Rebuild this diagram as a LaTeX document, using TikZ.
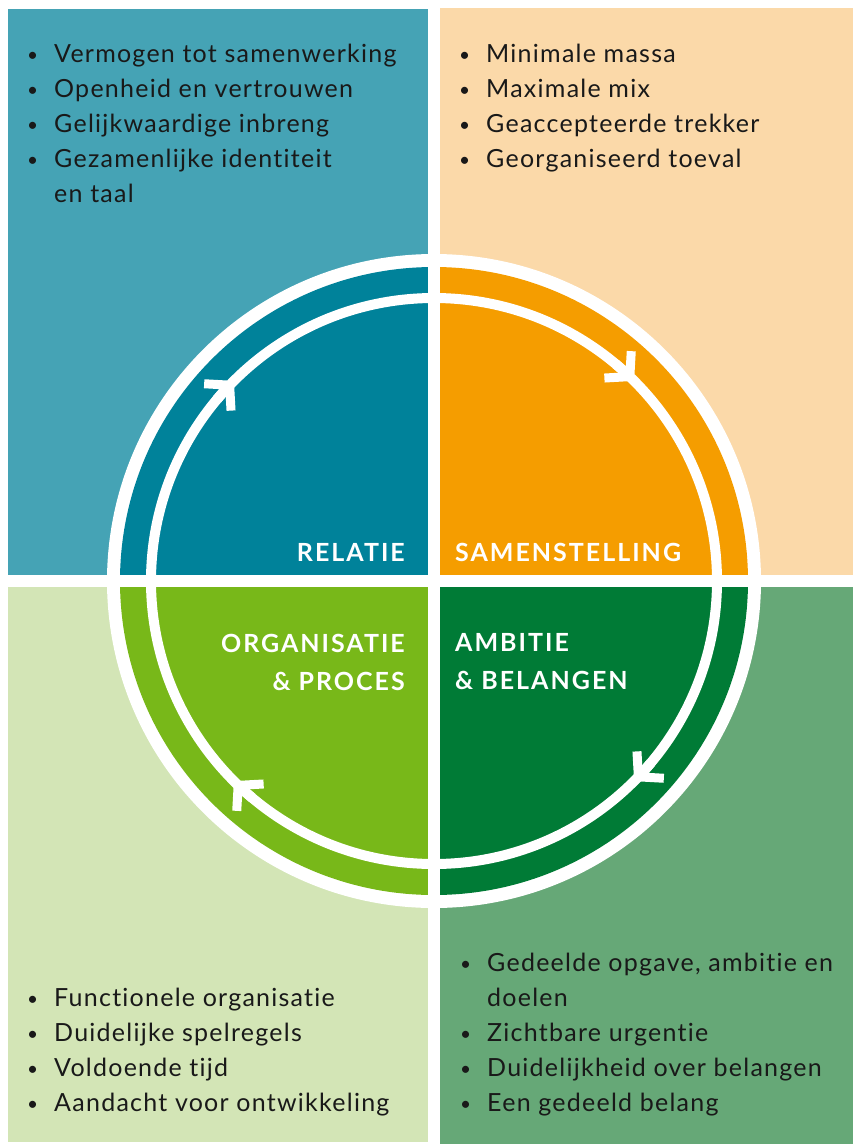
\documentclass[tikz,border=0pt]{standalone}
\usepackage{fontspec}
\setmainfont{Lato}[LetterSpace=5, Ligatures=NoCommon]
\newfontfamily\kopfont{Lato}[LetterSpace=8, Ligatures=NoCommon]
\usetikzlibrary{arrows.meta}

\definecolor{relLight}{HTML}{45A3B5}
\definecolor{relDark}{HTML}{00829A}
\definecolor{samLight}{HTML}{FBD9A9}
\definecolor{samDark}{HTML}{F59D00}
\definecolor{orgLight}{HTML}{D3E5B6}
\definecolor{orgDark}{HTML}{78B819}
\definecolor{ambLight}{HTML}{66A877}
\definecolor{ambDark}{HTML}{007B36}
\newcommand{\bul}{\makebox[27pt][l]{\raisebox{1.5pt}{\fontsize{19}{19}\selectfont\textbullet}}}

\begin{document}
\begin{tikzpicture}[
		x=1pt, y=1pt,
		lst/.style={anchor=north west, align=left, inner sep=0, text=black!90, font=\fontsize{25}{35}\selectfont},
		lbl/.style={inner sep=0, text=white, font=\kopfont\bfseries\fontsize{25}{38}\selectfont},
		pijl/.style={white, line width=10pt, -{Straight Barb[length=17pt, width=38pt, line width=9pt]}}
	]
  \useasboundingbox (0,0) rectangle (853,-1144);
  \fill[relLight] (8,-9) rectangle (428,-575);
  \fill[samLight] (440,-8) rectangle (853,-575);
  \fill[orgLight] (8,-587) rectangle (428,-1142);
  \fill[ambLight] (440,-587) rectangle (853,-1144);
  \coordinate (c) at (434,-581);
  \fill[white] (c) circle (327pt);
  \fill[relDark] (c) -- ++(180:314pt) arc (180:90:314pt) -- cycle;
  \fill[samDark] (c) -- ++(90:314pt) arc (90:0:314pt) -- cycle;
  \fill[ambDark] (c) -- ++(0:314pt) arc (0:-90:314pt) -- cycle;
  \fill[orgDark] (c) -- ++(-90:314pt) arc (-90:-180:314pt) -- cycle;
  \draw[white, line width=10pt] (c) circle (283pt);
  \fill[white] (428,-240) rectangle (440,-920);
  \fill[white] (100,-575) rectangle (770,-587);
  \draw[pijl] ([shift={(140:283pt)}]c) arc (140:135:283pt);
  \draw[pijl] ([shift={(50:283pt)}]c) arc (50:45:283pt);
  \draw[pijl] ([shift={(-40:283pt)}]c) arc (-40:-45:283pt);
  \draw[pijl] ([shift={(230:283pt)}]c) arc (230:225:283pt);
  \node[lbl, anchor=east] (relatie) at (405,-552) {RELATIE};
  \node[lbl, anchor=west] (samenstelling) at (455,-552) {SAMENSTELLING};
  \node[lbl, anchor=east, align=right] (organisatie) at (405,-662) {ORGANISATIE\\\& PROCES};
  \node[lbl, anchor=west, align=left] (ambitie) at (455,-662) {AMBITIE\\\& BELANGEN};
  \node[lst] (relatieLijst) at (27,-44) {\bul Vermogen tot samenwerking\\ \bul Openheid en vertrouwen\\ \bul Gelijkwaardige inbreng\\ \bul Gezamenlijke identiteit\\ \hspace*{27pt}en taal};
  \node[lst] (samenLijst) at (459,-44) {\bul Minimale massa\\ \bul Maximale mix\\ \bul Geaccepteerde trekker\\ \bul Georganiseerd toeval};
  \node[lst] (orgLijst) at (27,-988) {\bul Functionele organisatie\\ \bul Duidelijke spelregels\\ \bul Voldoende tijd\\ \bul Aandacht voor ontwikkeling};
  \node[lst] (ambLijst) at (460,-953) {\bul Gedeelde opgave, ambitie en\\ \hspace*{27pt}doelen\\ \bul Zichtbare urgentie\\ \bul Duidelijkheid over belangen\\ \bul Een gedeeld belang};
\end{tikzpicture}
\end{document}
